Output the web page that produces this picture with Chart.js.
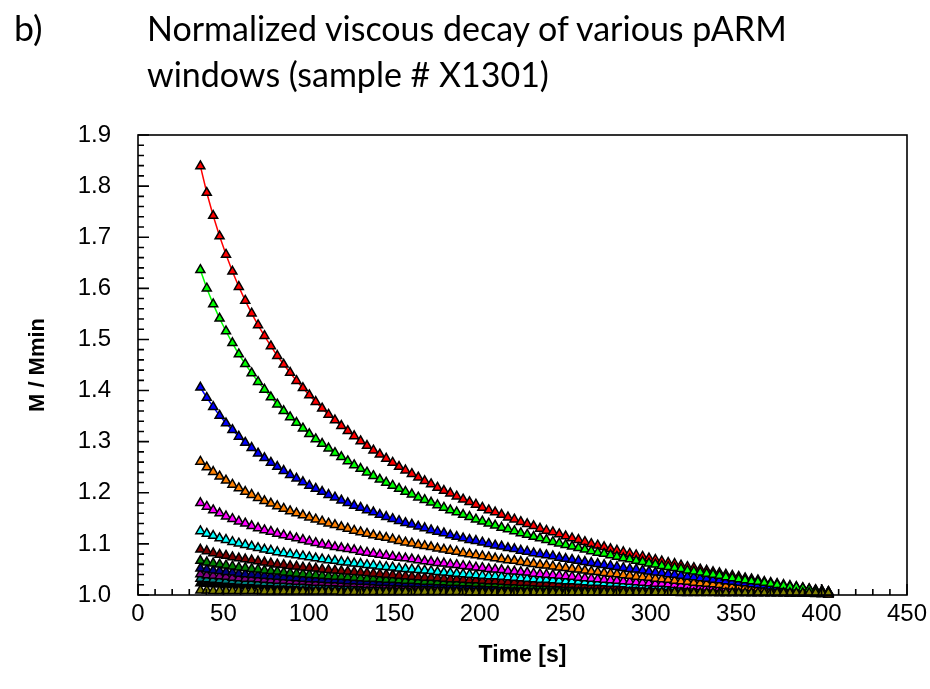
<!DOCTYPE html>
<html>
<head>
<meta charset="utf-8">
<script src="https://cdn.jsdelivr.net/npm/chart.js@4.4.1/dist/chart.umd.min.js"></script>
<style>
  html, body { margin: 0; padding: 0; background: #fff; }
  #wrap { position: relative; width: 930px; height: 689px; }
  #chart { position: absolute; left: 0; top: 0; }
  .head { position: absolute; font-family: Lato, 'Open Sans', sans-serif; color: #000; line-height: 46px; white-space: nowrap; }
</style>
</head>
<body>
<div id="wrap">
  <canvas id="chart" width="930" height="689"></canvas>
  <div id="panel" class="head">b)</div>
  <div id="title" class="head"></div>
</div>
<script>
const titleLines = ['Normalized viscous decay of various pARM', 'windows (sample # X1301)']
const xTitle = 'Time [s]'
const yTitle = 'M / Mmin'

const xTicks = [0, 50, 100, 150, 200, 250, 300, 350, 400, 450]
const yTicks = [1.0, 1.1, 1.2, 1.3, 1.4, 1.5, 1.6, 1.7, 1.8, 1.9]

// time of each reading [s]
const times = [36.5, 40.25, 44, 47.75, 51.5, 55.25, 59, 62.75, 66.5, 70.25,
  74, 77.75, 81.5, 85.25, 89, 92.75, 96.5, 100.25, 104, 107.75,
  111.5, 115.25, 119, 122.75, 126.5, 130.25, 134, 137.75, 141.5, 145.25,
  149, 152.75, 156.5, 160.25, 164, 167.75, 171.5, 175.25, 179, 182.75,
  186.5, 190.25, 194, 197.75, 201.5, 205.25, 209, 212.75, 216.5, 220.25,
  224, 227.75, 231.5, 235.25, 239, 242.75, 246.5, 250.25, 254, 257.75,
  261.5, 265.25, 269, 272.75, 276.5, 280.25, 284, 287.75, 291.5, 295.25,
  299, 302.75, 306.5, 310.25, 314, 317.75, 321.5, 325.25, 329, 332.75,
  336.5, 340.25, 344, 347.75, 351.5, 355.25, 359, 362.75, 366.5, 370.25,
  374, 377.75, 381.5, 385.25, 389, 392.75, 396.5, 400.25, 404]

const redVals = [1.839, 1.787, 1.742, 1.702, 1.666, 1.633, 1.603, 1.576, 1.551, 1.528,
  1.507, 1.487, 1.468, 1.451, 1.435, 1.419, 1.405, 1.391, 1.378, 1.365,
  1.353, 1.342, 1.331, 1.321, 1.311, 1.301, 1.292, 1.283, 1.275, 1.267,
  1.259, 1.251, 1.244, 1.237, 1.230, 1.223, 1.217, 1.210, 1.204, 1.199,
  1.193, 1.187, 1.182, 1.177, 1.171, 1.166, 1.162, 1.157, 1.152, 1.148,
  1.143, 1.139, 1.135, 1.130, 1.126, 1.123, 1.119, 1.115, 1.111, 1.108,
  1.104, 1.100, 1.097, 1.094, 1.090, 1.087, 1.084, 1.081, 1.078, 1.075,
  1.072, 1.069, 1.066, 1.063, 1.061, 1.058, 1.055, 1.053, 1.050, 1.048,
  1.045, 1.043, 1.040, 1.038, 1.036, 1.033, 1.031, 1.029, 1.026, 1.024,
  1.022, 1.020, 1.018, 1.016, 1.014, 1.012, 1.010, 1.008, 1.006]

const greenVals = [1.636, 1.600, 1.569, 1.541, 1.516, 1.493, 1.471, 1.452, 1.434, 1.417,
  1.402, 1.387, 1.373, 1.360, 1.348, 1.337, 1.326, 1.315, 1.305, 1.296,
  1.287, 1.278, 1.270, 1.262, 1.254, 1.247, 1.240, 1.233, 1.226, 1.220,
  1.214, 1.208, 1.202, 1.197, 1.191, 1.186, 1.181, 1.176, 1.171, 1.166,
  1.162, 1.157, 1.153, 1.148, 1.144, 1.140, 1.136, 1.132, 1.129, 1.125,
  1.121, 1.118, 1.114, 1.111, 1.108, 1.104, 1.101, 1.098, 1.095, 1.092,
  1.089, 1.086, 1.083, 1.081, 1.078, 1.075, 1.072, 1.070, 1.067, 1.065,
  1.062, 1.060, 1.057, 1.055, 1.053, 1.051, 1.048, 1.046, 1.044, 1.042,
  1.040, 1.038, 1.035, 1.033, 1.031, 1.029, 1.027, 1.026, 1.024, 1.022,
  1.020, 1.018, 1.016, 1.015, 1.013, 1.011, 1.009, 1.008, 1.006]

const blueVals = [1.406, 1.386, 1.368, 1.351, 1.336, 1.323, 1.310, 1.298, 1.288, 1.277,
  1.268, 1.259, 1.251, 1.243, 1.235, 1.228, 1.221, 1.214, 1.208, 1.202,
  1.196, 1.191, 1.185, 1.180, 1.175, 1.171, 1.166, 1.162, 1.157, 1.153,
  1.149, 1.145, 1.141, 1.138, 1.134, 1.131, 1.127, 1.124, 1.121, 1.117,
  1.114, 1.111, 1.108, 1.106, 1.103, 1.100, 1.097, 1.095, 1.092, 1.090,
  1.087, 1.085, 1.082, 1.080, 1.078, 1.076, 1.073, 1.071, 1.069, 1.067,
  1.065, 1.063, 1.061, 1.059, 1.057, 1.055, 1.053, 1.051, 1.050, 1.048,
  1.046, 1.044, 1.043, 1.041, 1.040, 1.038, 1.036, 1.035, 1.033, 1.032,
  1.030, 1.029, 1.027, 1.026, 1.024, 1.023, 1.021, 1.020, 1.019, 1.017,
  1.016, 1.015, 1.013, 1.012, 1.011, 1.010, 1.008, 1.007, 1.006]

const orangeVals = [1.261, 1.250, 1.241, 1.232, 1.224, 1.216, 1.209, 1.202, 1.196, 1.190,
  1.184, 1.179, 1.174, 1.169, 1.164, 1.160, 1.156, 1.152, 1.148, 1.144,
  1.140, 1.137, 1.133, 1.130, 1.126, 1.123, 1.120, 1.117, 1.114, 1.112,
  1.109, 1.106, 1.103, 1.101, 1.098, 1.096, 1.094, 1.091, 1.089, 1.087,
  1.085, 1.082, 1.080, 1.078, 1.076, 1.074, 1.072, 1.070, 1.068, 1.067,
  1.065, 1.063, 1.061, 1.059, 1.058, 1.056, 1.054, 1.053, 1.051, 1.050,
  1.048, 1.046, 1.045, 1.043, 1.042, 1.041, 1.039, 1.038, 1.036, 1.035,
  1.034, 1.032, 1.031, 1.030, 1.028, 1.027, 1.026, 1.024, 1.023, 1.022,
  1.021, 1.020, 1.018, 1.017, 1.016, 1.015, 1.014, 1.013, 1.012, 1.010,
  1.009, 1.008, 1.007, 1.006, 1.005, 1.004, 1.003, 1.002, 1.001]

const magentaVals = [1.180, 1.173, 1.166, 1.160, 1.154, 1.149, 1.144, 1.140, 1.135, 1.131,
  1.127, 1.124, 1.120, 1.117, 1.114, 1.111, 1.108, 1.105, 1.102, 1.099,
  1.097, 1.094, 1.092, 1.090, 1.088, 1.085, 1.083, 1.081, 1.079, 1.077,
  1.075, 1.073, 1.072, 1.070, 1.068, 1.066, 1.065, 1.063, 1.062, 1.060,
  1.059, 1.057, 1.056, 1.054, 1.053, 1.051, 1.050, 1.049, 1.047, 1.046,
  1.045, 1.044, 1.042, 1.041, 1.040, 1.039, 1.038, 1.037, 1.036, 1.034,
  1.033, 1.032, 1.031, 1.030, 1.029, 1.028, 1.027, 1.026, 1.025, 1.024,
  1.023, 1.022, 1.022, 1.021, 1.020, 1.019, 1.018, 1.017, 1.016, 1.015,
  1.015, 1.014, 1.013, 1.012, 1.011, 1.011, 1.010, 1.009, 1.008, 1.007,
  1.007, 1.006, 1.005, 1.005, 1.004, 1.003, 1.002, 1.002, 1.001]

const cyanVals = [1.125, 1.120, 1.116, 1.111, 1.108, 1.104, 1.101, 1.098, 1.095, 1.092,
  1.089, 1.087, 1.084, 1.082, 1.080, 1.078, 1.076, 1.074, 1.072, 1.070,
  1.068, 1.067, 1.065, 1.064, 1.062, 1.061, 1.059, 1.058, 1.056, 1.055,
  1.054, 1.052, 1.051, 1.050, 1.049, 1.048, 1.047, 1.045, 1.044, 1.043,
  1.042, 1.041, 1.040, 1.039, 1.038, 1.037, 1.037, 1.036, 1.035, 1.034,
  1.033, 1.032, 1.031, 1.030, 1.030, 1.029, 1.028, 1.027, 1.027, 1.026,
  1.025, 1.024, 1.024, 1.023, 1.022, 1.022, 1.021, 1.020, 1.020, 1.019,
  1.018, 1.018, 1.017, 1.016, 1.016, 1.015, 1.015, 1.014, 1.013, 1.013,
  1.012, 1.012, 1.011, 1.011, 1.010, 1.010, 1.009, 1.008, 1.008, 1.007,
  1.007, 1.006, 1.006, 1.005, 1.005, 1.004, 1.004, 1.003, 1.003]

const darkRedVals = [1.089, 1.086, 1.082, 1.079, 1.077, 1.074, 1.072, 1.070, 1.068, 1.066,
  1.064, 1.062, 1.060, 1.059, 1.057, 1.056, 1.054, 1.053, 1.052, 1.050,
  1.049, 1.048, 1.047, 1.046, 1.045, 1.044, 1.043, 1.042, 1.041, 1.040,
  1.039, 1.038, 1.037, 1.036, 1.035, 1.034, 1.034, 1.033, 1.032, 1.031,
  1.031, 1.030, 1.029, 1.029, 1.028, 1.027, 1.027, 1.026, 1.025, 1.025,
  1.024, 1.024, 1.023, 1.022, 1.022, 1.021, 1.021, 1.020, 1.020, 1.019,
  1.019, 1.018, 1.018, 1.017, 1.017, 1.016, 1.016, 1.015, 1.015, 1.014,
  1.014, 1.013, 1.013, 1.012, 1.012, 1.012, 1.011, 1.011, 1.010, 1.010,
  1.010, 1.009, 1.009, 1.008, 1.008, 1.008, 1.007, 1.007, 1.006, 1.006,
  1.006, 1.005, 1.005, 1.005, 1.004, 1.004, 1.004, 1.003, 1.003]

const darkGreenVals = [1.067, 1.064, 1.062, 1.060, 1.058, 1.056, 1.054, 1.053, 1.051, 1.050,
  1.048, 1.047, 1.046, 1.044, 1.043, 1.042, 1.041, 1.040, 1.039, 1.038,
  1.037, 1.036, 1.036, 1.035, 1.034, 1.033, 1.032, 1.032, 1.031, 1.030,
  1.030, 1.029, 1.028, 1.028, 1.027, 1.026, 1.026, 1.025, 1.025, 1.024,
  1.024, 1.023, 1.023, 1.022, 1.022, 1.021, 1.021, 1.020, 1.020, 1.019,
  1.019, 1.018, 1.018, 1.017, 1.017, 1.017, 1.016, 1.016, 1.015, 1.015,
  1.015, 1.014, 1.014, 1.013, 1.013, 1.013, 1.012, 1.012, 1.012, 1.011,
  1.011, 1.011, 1.010, 1.010, 1.010, 1.009, 1.009, 1.009, 1.008, 1.008,
  1.008, 1.008, 1.007, 1.007, 1.007, 1.006, 1.006, 1.006, 1.006, 1.005,
  1.005, 1.005, 1.005, 1.004, 1.004, 1.004, 1.004, 1.003, 1.003]

const navyVals = [1.052, 1.050, 1.048, 1.047, 1.045, 1.044, 1.042, 1.041, 1.040, 1.039,
  1.038, 1.037, 1.036, 1.035, 1.034, 1.033, 1.032, 1.031, 1.031, 1.030,
  1.029, 1.029, 1.028, 1.027, 1.027, 1.026, 1.026, 1.025, 1.024, 1.024,
  1.023, 1.023, 1.022, 1.022, 1.021, 1.021, 1.021, 1.020, 1.020, 1.019,
  1.019, 1.018, 1.018, 1.018, 1.017, 1.017, 1.016, 1.016, 1.016, 1.015,
  1.015, 1.015, 1.014, 1.014, 1.014, 1.013, 1.013, 1.013, 1.012, 1.012,
  1.012, 1.012, 1.011, 1.011, 1.011, 1.010, 1.010, 1.010, 1.010, 1.009,
  1.009, 1.009, 1.009, 1.008, 1.008, 1.008, 1.008, 1.007, 1.007, 1.007,
  1.007, 1.007, 1.006, 1.006, 1.006, 1.006, 1.005, 1.005, 1.005, 1.005,
  1.005, 1.004, 1.004, 1.004, 1.004, 1.004, 1.003, 1.003, 1.003]

const purpleVals = [1.041, 1.039, 1.038, 1.037, 1.036, 1.034, 1.033, 1.032, 1.032, 1.031,
  1.030, 1.029, 1.028, 1.028, 1.027, 1.026, 1.026, 1.025, 1.024, 1.024,
  1.023, 1.023, 1.022, 1.022, 1.021, 1.021, 1.020, 1.020, 1.020, 1.019,
  1.019, 1.018, 1.018, 1.018, 1.017, 1.017, 1.017, 1.016, 1.016, 1.016,
  1.015, 1.015, 1.015, 1.014, 1.014, 1.014, 1.013, 1.013, 1.013, 1.013,
  1.012, 1.012, 1.012, 1.012, 1.011, 1.011, 1.011, 1.011, 1.010, 1.010,
  1.010, 1.010, 1.009, 1.009, 1.009, 1.009, 1.009, 1.008, 1.008, 1.008,
  1.008, 1.008, 1.007, 1.007, 1.007, 1.007, 1.007, 1.006, 1.006, 1.006,
  1.006, 1.006, 1.006, 1.005, 1.005, 1.005, 1.005, 1.005, 1.005, 1.004,
  1.004, 1.004, 1.004, 1.004, 1.004, 1.003, 1.003, 1.003, 1.003]

const tealVals = [1.032, 1.031, 1.030, 1.029, 1.028, 1.027, 1.026, 1.025, 1.025, 1.024,
  1.023, 1.023, 1.022, 1.022, 1.021, 1.021, 1.020, 1.020, 1.019, 1.019,
  1.018, 1.018, 1.018, 1.017, 1.017, 1.017, 1.016, 1.016, 1.016, 1.015,
  1.015, 1.015, 1.014, 1.014, 1.014, 1.014, 1.013, 1.013, 1.013, 1.013,
  1.012, 1.012, 1.012, 1.012, 1.011, 1.011, 1.011, 1.011, 1.010, 1.010,
  1.010, 1.010, 1.010, 1.009, 1.009, 1.009, 1.009, 1.009, 1.009, 1.008,
  1.008, 1.008, 1.008, 1.008, 1.008, 1.007, 1.007, 1.007, 1.007, 1.007,
  1.007, 1.006, 1.006, 1.006, 1.006, 1.006, 1.006, 1.006, 1.005, 1.005,
  1.005, 1.005, 1.005, 1.005, 1.005, 1.005, 1.004, 1.004, 1.004, 1.004,
  1.004, 1.004, 1.004, 1.004, 1.003, 1.003, 1.003, 1.003, 1.003]

const blackVals = [1.023, 1.022, 1.021, 1.021, 1.020, 1.020, 1.019, 1.018, 1.018, 1.018,
  1.017, 1.017, 1.016, 1.016, 1.016, 1.015, 1.015, 1.015, 1.014, 1.014,
  1.014, 1.013, 1.013, 1.013, 1.013, 1.012, 1.012, 1.012, 1.012, 1.011,
  1.011, 1.011, 1.011, 1.011, 1.010, 1.010, 1.010, 1.010, 1.010, 1.010,
  1.009, 1.009, 1.009, 1.009, 1.009, 1.009, 1.008, 1.008, 1.008, 1.008,
  1.008, 1.008, 1.008, 1.007, 1.007, 1.007, 1.007, 1.007, 1.007, 1.007,
  1.007, 1.006, 1.006, 1.006, 1.006, 1.006, 1.006, 1.006, 1.006, 1.006,
  1.005, 1.005, 1.005, 1.005, 1.005, 1.005, 1.005, 1.005, 1.005, 1.005,
  1.005, 1.004, 1.004, 1.004, 1.004, 1.004, 1.004, 1.004, 1.004, 1.004,
  1.004, 1.004, 1.003, 1.003, 1.003, 1.003, 1.003, 1.003, 1.003]

const oliveVals = [1.009, 1.009, 1.008, 1.008, 1.008, 1.008, 1.008, 1.008, 1.008, 1.008,
  1.007, 1.007, 1.007, 1.007, 1.007, 1.007, 1.007, 1.007, 1.007, 1.007,
  1.007, 1.007, 1.006, 1.006, 1.006, 1.006, 1.006, 1.006, 1.006, 1.006,
  1.006, 1.006, 1.006, 1.006, 1.006, 1.006, 1.006, 1.006, 1.006, 1.006,
  1.006, 1.006, 1.005, 1.005, 1.005, 1.005, 1.005, 1.005, 1.005, 1.005,
  1.005, 1.005, 1.005, 1.005, 1.005, 1.005, 1.005, 1.005, 1.005, 1.005,
  1.005, 1.005, 1.005, 1.005, 1.005, 1.005, 1.005, 1.005, 1.005, 1.005,
  1.005, 1.005, 1.005, 1.005, 1.005, 1.004, 1.004, 1.004, 1.004, 1.004,
  1.004, 1.004, 1.004, 1.004, 1.004, 1.004, 1.004, 1.004, 1.004, 1.004,
  1.004, 1.004, 1.004, 1.004, 1.004, 1.004, 1.004, 1.004, 1.004]

// first entry is painted last (on top)
const seriesNames = ['W13', 'W2', 'W1', 'W3', 'W4', 'W5', 'W6', 'W7', 'W8', 'W9', 'W10', 'W11', 'W12']
const seriesColors = ['#808000', '#00ff00', '#ff0000', '#0000ff', '#ff8000', '#ff00ff', '#00ffff',
  '#800000', '#008000', '#000080', '#800080', '#008080', '#000000']
const seriesValues = [oliveVals, greenVals, redVals, blueVals, orangeVals, magentaVals, cyanVals,
  darkRedVals, darkGreenVals, navyVals, purpleVals, tealVals, blackVals]

const tickFont = { family: "'Liberation Sans', Arial, sans-serif", size: 24 }

function setupTitle() {
  const probe = document.createElement('canvas').getContext('2d')
  probe.font = '100px Lato'
  const size = 100 * 643 / probe.measureText(titleLines[0]).width
  const lineH = 46
  // place the first baseline at y = 41
  const top = 41 - ((lineH - 1.2 * size) / 2 + 0.987 * size)
  const title = document.getElementById('title')
  title.innerHTML = titleLines.join('<br>')
  title.style.fontSize = size + 'px'
  title.style.left = '147px'
  title.style.top = top + 'px'
  const panel = document.getElementById('panel')
  panel.style.fontSize = (size * 1.05) + 'px'
  panel.style.left = '14px'
  panel.style.top = top + 'px'
}

const framePlugin = {
  id: 'frame',
  afterDraw(chart) {
    const { ctx, chartArea: a, scales: { x, y } } = chart
    ctx.save()
    ctx.strokeStyle = '#000'
    ctx.lineWidth = 1.6
    ctx.beginPath()
    // inward ticks on the bottom axis, minor every 10 s
    for (let k = 0; k <= 45; k++) {
      const px = x.getPixelForValue(k * 10)
      const len = k % 5 === 0 ? 11 : 6
      ctx.moveTo(px, a.bottom)
      ctx.lineTo(px, a.bottom - len)
    }
    // inward ticks on the left axis, minor every 0.02
    for (let k = 0; k <= 45; k++) {
      const py = y.getPixelForValue(1 + k * 0.02)
      const len = k % 5 === 0 ? 11 : 6
      ctx.moveTo(a.left, py)
      ctx.lineTo(a.left + len, py)
    }
    ctx.stroke()
    ctx.strokeRect(a.left, a.top, a.right - a.left, a.bottom - a.top)
    ctx.restore()
  }
}

function displayChart() {
  const datasets = seriesValues.map((vals, i) => ({
    label: seriesNames[i],
    data: vals.map((v, j) => ({ x: times[j], y: v })),
    borderColor: seriesColors[i],
    backgroundColor: seriesColors[i],
    borderWidth: 1.5,
    pointStyle: 'triangle',
    pointRadius: 5.2,
    pointBorderWidth: 1.5,
    pointBorderColor: '#000',
    pointBackgroundColor: seriesColors[i],
    tension: 0,
    clip: false
  }))

  const ctx = document.getElementById('chart').getContext('2d')
  new Chart(ctx, {
    type: 'line',
    data: { datasets },
    options: {
      responsive: false,
      animation: false,
      layout: { padding: { top: 135, right: 23, left: 0, bottom: 0 } },
      plugins: {
        legend: { display: false },
        tooltip: { enabled: false }
      },
      scales: {
        x: {
          type: 'linear',
          min: 0,
          max: 450,
          afterBuildTicks: scale => { scale.ticks = xTicks.map(v => ({ value: v })) },
          afterFit: scale => { scale.height = 94 },
          grid: { display: false },
          border: { display: false },
          ticks: { font: tickFont, color: '#000', padding: -3, maxRotation: 0, autoSkip: false },
          title: {
            display: true,
            text: xTitle,
            color: '#000',
            font: { family: "'Liberation Sans', Arial, sans-serif", size: 23, weight: 'bold' },
            padding: { top: 0, bottom: 20 }
          }
        },
        y: {
          min: 1.0,
          max: 1.9,
          afterBuildTicks: scale => { scale.ticks = yTicks.map(v => ({ value: v })) },
          afterFit: scale => { scale.width = 138 },
          grid: { display: false },
          border: { display: false },
          ticks: { font: tickFont, color: '#000', padding: 19, callback: v => v.toFixed(1) },
          title: {
            display: true,
            text: yTitle,
            color: '#000',
            font: { family: "'Liberation Sans', Arial, sans-serif", size: 22, weight: 'bold' },
            padding: { top: 25, bottom: 0 }
          }
        }
      }
    },
    plugins: [framePlugin]
  })
}

setupTitle()
displayChart()
</script>
</body>
</html>
